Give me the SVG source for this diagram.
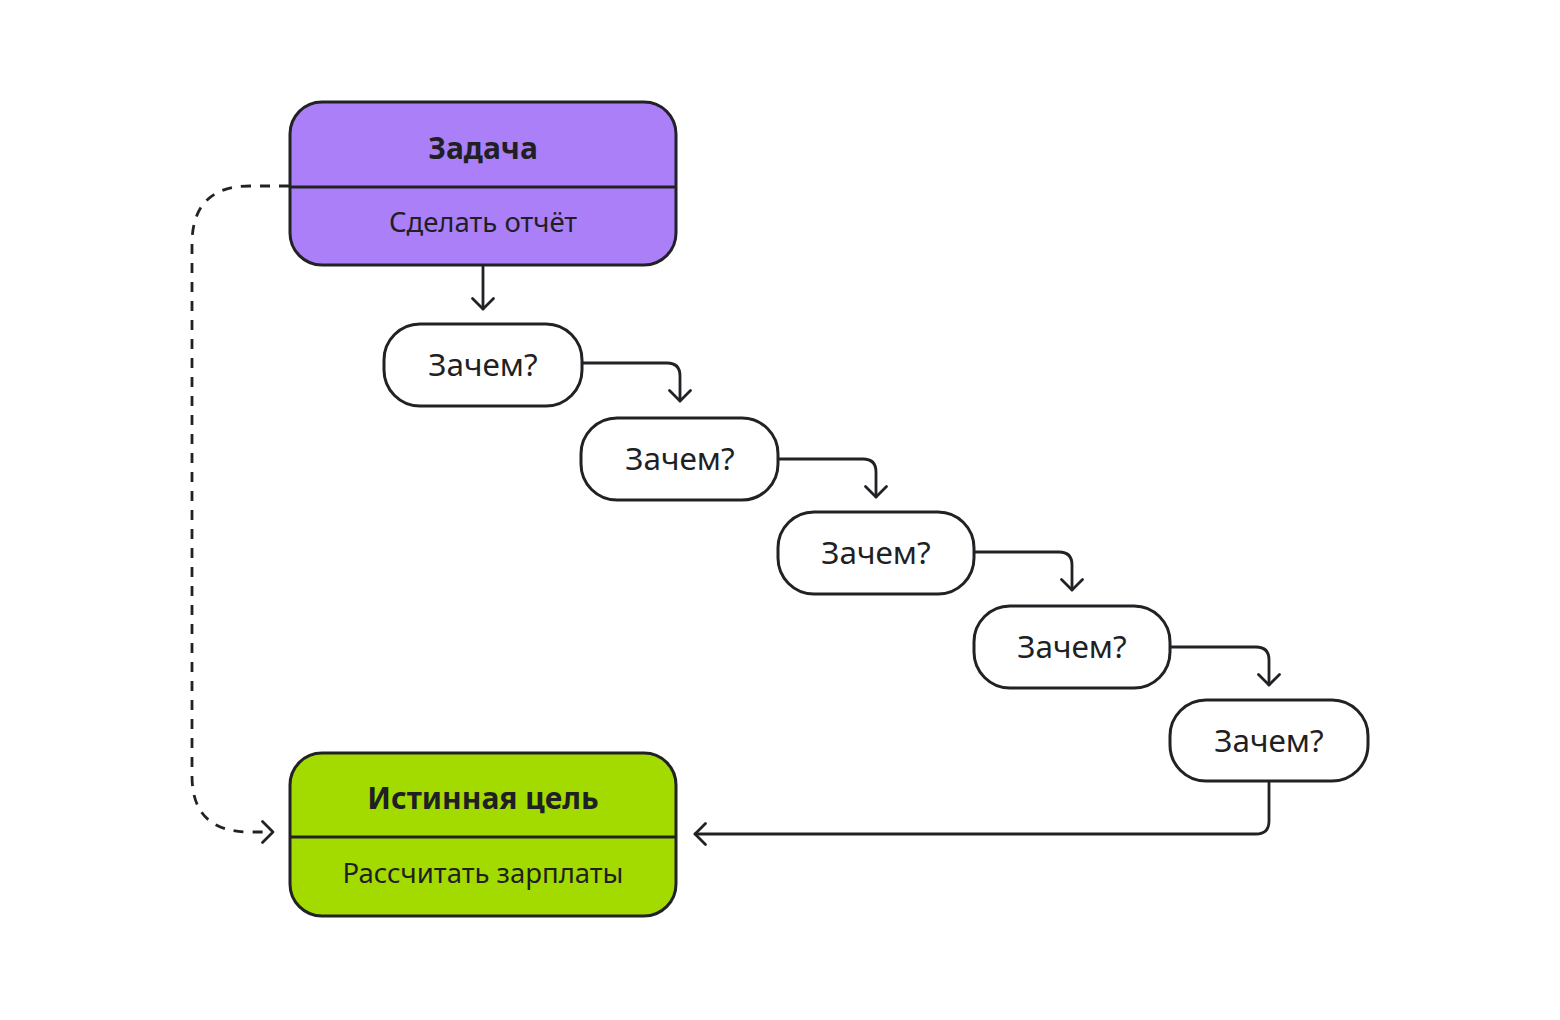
<svg xmlns="http://www.w3.org/2000/svg" width="1560" height="1020" viewBox="0 0 1560 1020">
<defs>
<style>
.box{stroke:#222226;stroke-width:3}
.q{fill:#ffffff}
.t{font-family:"Noto Sans","Open Sans",sans-serif;fill:#1f1f24;text-anchor:middle}
.title{font-size:30px;font-weight:bold}
.sub{font-size:27.5px}
.qt{font-size:31.5px}
.c{fill:none;stroke:#222226;stroke-width:2.8;stroke-linecap:round;stroke-linejoin:round}
.d{stroke-dasharray:10 9;stroke-linecap:butt}
</style>
<marker id="ah" viewBox="-13 -13 26 26" markerWidth="26" markerHeight="26" refX="0" refY="0" orient="auto" markerUnits="userSpaceOnUse">
<path d="M-10.5,-10.5 L0,0 L-10.5,10.5" fill="none" stroke="#222226" stroke-width="2.8" stroke-linecap="round" stroke-linejoin="round"/>
</marker>
</defs>
<rect width="1560" height="1020" fill="#ffffff"/>
<g id="connectors">
<path class="c" d="M483,266 V309" marker-end="url(#ah)"/>
<path class="c" d="M583,363 H667 Q680,363 680,376 V401" marker-end="url(#ah)"/>
<path class="c" d="M779,459 H863 Q876,459 876,472 V497" marker-end="url(#ah)"/>
<path class="c" d="M975,552 H1059 Q1072,552 1072,565 V590" marker-end="url(#ah)"/>
<path class="c" d="M1171,647 H1256 Q1269,647 1269,660 V685" marker-end="url(#ah)"/>
<path class="c" d="M1269,782 V821 Q1269,834 1256,834 H695" marker-end="url(#ah)"/>
<path class="c d" d="M289,186 H250 Q192,186 192,244 V776 Q192,832 250,832 H273" marker-end="url(#ah)"/>
</g>
<g id="task">
<rect class="box" x="290" y="102" width="386" height="163" rx="32" fill="#AA7FF8"/>
<line class="box" x1="290" y1="187" x2="676" y2="187"/>
<text class="t title" x="483" y="159">Задача</text>
<text class="t sub" x="483" y="232">Сделать отчёт</text>
</g>
<g id="q1">
<rect class="box q" x="384" y="324" width="198" height="82" rx="36"/>
<text class="t qt" x="483" y="376">Зачем?</text>
</g>
<g id="q2">
<rect class="box q" x="581" y="418" width="197" height="82" rx="36"/>
<text class="t qt" x="680" y="470">Зачем?</text>
</g>
<g id="q3">
<rect class="box q" x="778" y="512" width="196" height="82" rx="36"/>
<text class="t qt" x="876" y="564">Зачем?</text>
</g>
<g id="q4">
<rect class="box q" x="974" y="606" width="196" height="82" rx="36"/>
<text class="t qt" x="1072" y="658">Зачем?</text>
</g>
<g id="q5">
<rect class="box q" x="1170" y="700" width="198" height="81" rx="36"/>
<text class="t qt" x="1269" y="752">Зачем?</text>
</g>
<g id="goal">
<rect class="box" x="290" y="753" width="386" height="163" rx="32" fill="#A3DB00"/>
<line class="box" x1="290" y1="837" x2="676" y2="837"/>
<text class="t title" x="483" y="809">Истинная цель</text>
<text class="t sub" x="483" y="883">Рассчитать зарплаты</text>
</g>
</svg>
